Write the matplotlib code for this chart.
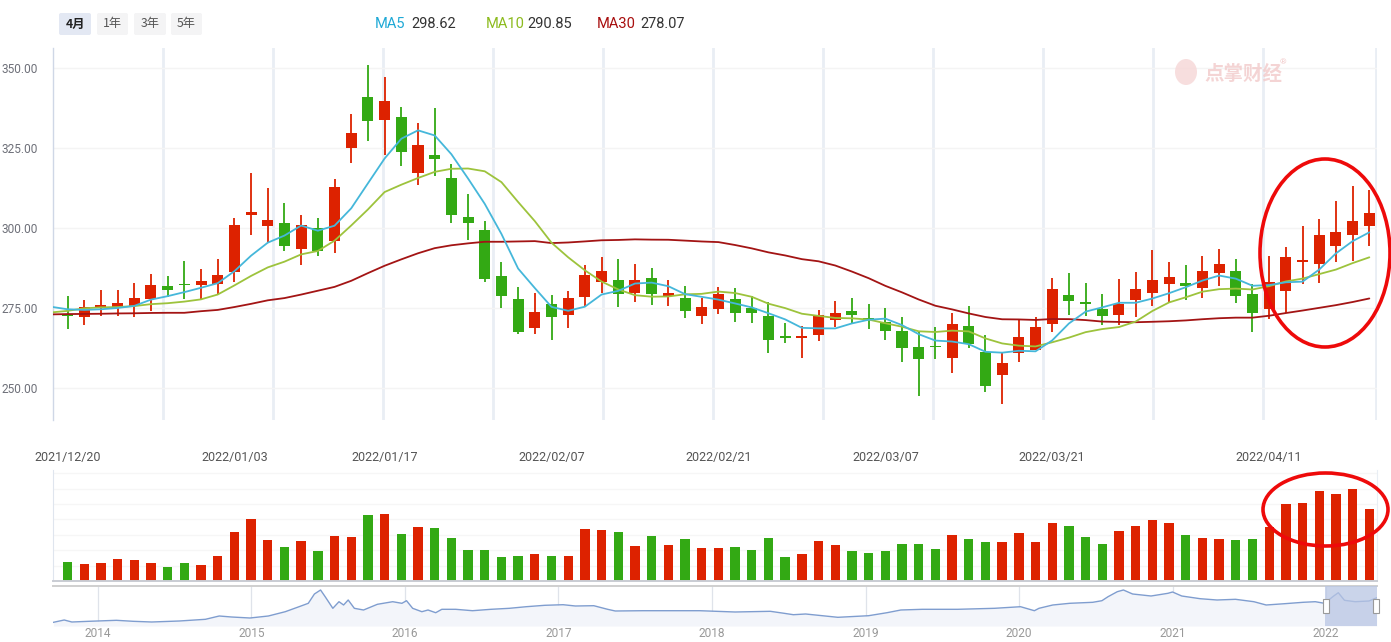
import matplotlib
matplotlib.use('Agg')
import matplotlib.pyplot as plt
import numpy as np
import pandas as pd
from matplotlib.patches import Ellipse, FancyBboxPatch, Rectangle

plt.rcParams['font.family'] = ['Roboto', 'Noto Sans CJK SC', 'DejaVu Sans']

# ---------------- data ----------------
dates = ['2021-12-20', '2021-12-21', '2021-12-22', '2021-12-23', '2021-12-24', '2021-12-27', '2021-12-28',
         '2021-12-29', '2021-12-30', '2021-12-31', '2022-01-04', '2022-01-05', '2022-01-06', '2022-01-07',
         '2022-01-10', '2022-01-11', '2022-01-12', '2022-01-13', '2022-01-14', '2022-01-17', '2022-01-18',
         '2022-01-19', '2022-01-20', '2022-01-21', '2022-01-24', '2022-01-25', '2022-01-26', '2022-01-27',
         '2022-01-28', '2022-02-07', '2022-02-08', '2022-02-09', '2022-02-10', '2022-02-11', '2022-02-14',
         '2022-02-15', '2022-02-16', '2022-02-17', '2022-02-18', '2022-02-21', '2022-02-22', '2022-02-23',
         '2022-02-24', '2022-02-25', '2022-02-28', '2022-03-01', '2022-03-02', '2022-03-03', '2022-03-04',
         '2022-03-07', '2022-03-08', '2022-03-09', '2022-03-10', '2022-03-11', '2022-03-14', '2022-03-15',
         '2022-03-16', '2022-03-17', '2022-03-18', '2022-03-21', '2022-03-22', '2022-03-23', '2022-03-24',
         '2022-03-25', '2022-03-28', '2022-03-29', '2022-03-30', '2022-03-31', '2022-04-01', '2022-04-06',
         '2022-04-07', '2022-04-08', '2022-04-11', '2022-04-12', '2022-04-13', '2022-04-14', '2022-04-15',
         '2022-04-18', '2022-04-19']

open_ = [273.0, 272.3, 275.3, 275.4, 275.7, 277.9, 281.9, 282.5, 282.3, 282.6,
         286.2, 304.2, 300.7, 301.6, 293.5, 300.0, 296.0, 325.1, 341.0, 333.8,
         334.7, 317.3, 322.8, 315.6, 303.4, 299.4, 285.0, 277.8, 268.8, 276.25,
         272.9, 278.5, 283.2, 283.75, 279.8, 284.4, 278.85, 278.1, 272.6, 274.8,
         277.8, 275.0, 272.5, 266.25, 265.7, 266.7, 271.3, 274.1, 271.7, 270.6,
         267.8, 262.8, 263.1, 259.5, 269.4, 261.25, 254.2, 261.0, 261.9, 270.1,
         279.1, 276.9, 274.7, 272.9, 277.6, 279.8, 282.6, 282.7, 281.3, 286.0,
         286.6, 279.4, 274.8, 280.4, 289.5, 288.85, 294.5, 297.9, 300.7]
high = [278.75, 277.5, 280.6, 280.6, 282.8, 285.6, 285.0, 289.7, 287.2, 290.3,
        303.1, 317.2, 312.5, 307.8, 304.1, 303.1, 315.3, 335.6, 350.9, 347.2,
        337.8, 332.8, 337.5, 320.0, 310.6, 302.2, 289.4, 281.6, 279.7, 279.1,
        280.3, 288.4, 290.9, 290.3, 288.75, 287.5, 283.75, 281.9, 278.1, 281.6,
        281.25, 278.6, 276.9, 270.3, 269.3, 274.4, 277.2, 278.1, 276.25, 274.9,
        272.2, 267.8, 269.1, 273.4, 275.6, 266.6, 260.9, 271.6, 272.2, 284.4,
        285.9, 282.8, 279.4, 284.1, 286.25, 293.1, 289.4, 288.4, 291.25, 293.4,
        290.3, 282.5, 291.25, 294.1, 300.7, 302.8, 308.4, 313.1, 311.9]
low = [268.5, 269.8, 272.6, 272.6, 272.3, 274.2, 278.3, 277.9, 277.5, 279.4,
       283.2, 297.9, 295.5, 292.9, 288.5, 291.35, 292.3, 320.4, 327.3, 322.8,
       319.5, 313.5, 316.3, 301.7, 296.3, 283.2, 275.1, 267.0, 267.0, 265.1,
       268.8, 275.4, 279.8, 275.4, 277.0, 276.0, 275.6, 272.0, 270.1, 273.2,
       270.7, 270.4, 261.0, 264.2, 259.5, 264.8, 269.1, 270.3, 268.4, 265.0,
       258.2, 247.6, 259.0, 254.8, 262.6, 248.75, 245.1, 258.2, 261.8, 267.5,
       272.9, 272.5, 269.8, 269.8, 272.3, 275.7, 276.9, 277.6, 278.2, 282.0,
       276.7, 267.6, 271.7, 273.5, 282.6, 282.9, 289.4, 289.8, 294.5]
close = [272.4, 275.3, 275.9, 276.6, 278.1, 282.2, 280.7, 282.2, 283.4, 285.3,
         300.9, 305.0, 302.5, 294.5, 300.9, 292.9, 312.8, 329.7, 333.5, 339.7,
         323.8, 325.9, 321.7, 304.2, 301.7, 284.2, 278.9, 267.6, 273.75, 272.3,
         278.1, 285.3, 286.6, 279.5, 283.75, 279.5, 279.7, 274.2, 275.3, 279.4,
         273.5, 273.5, 265.1, 265.7, 266.2, 272.7, 273.4, 272.9, 271.5, 267.9,
         262.6, 259.2, 262.9, 270.0, 263.8, 250.7, 257.8, 265.9, 269.1, 280.9,
         277.1, 276.3, 272.6, 276.25, 280.9, 283.75, 284.6, 282.0, 286.6, 288.75,
         278.9, 273.5, 283.1, 290.9, 289.8, 297.8, 298.75, 302.2, 304.7]
volume = [19, 17, 18, 22, 21, 18, 14, 18, 16, 25, 49, 62, 41, 34, 40, 30, 45, 44, 66, 67,
          47, 54, 53, 43, 31, 31, 24, 25, 27, 25, 25, 52, 51, 49, 35, 45, 36, 42, 33, 33,
          34, 31, 43, 24, 27, 40, 36, 30, 28, 30, 37, 37, 32, 46, 42, 39, 39, 48, 39, 58,
          55, 44, 37, 50, 55, 61, 58, 46, 43, 42, 41, 42, 54, 77, 78, 90, 87, 92, 72]

# moving-average values before enough closes are in the window (index -1 .. n-1)
ma5_head = [275.4, 274.6, 274.4, 274.6, 275.0]
ma10_head = [273.6, 274.1, 274.9, 275.2, 275.3, 275.6, 276.2, 276.5, 277.0, 277.7]
ma30_head = [273.0, 273.1, 273.15, 273.2, 273.3, 273.35, 273.45, 273.5, 273.5, 274.0, 274.4,
             275.3, 276.3, 277.4, 278.1, 279.2, 280.4, 281.6, 283.5, 285.9, 288.2, 290.2,
             292.1, 293.7, 294.6, 295.2, 295.7, 295.7, 295.8, 295.9]

tick_idx = [0, 10, 19, 29, 39, 49, 59, 72]
tick_lbl = ['2021/12/20', '2022/01/03', '2022/01/17', '2022/02/07', '2022/02/21',
            '2022/03/07', '2022/03/21', '2022/04/11']
price_ticks = [250, 275, 300, 325, 350]

legend_names = ['MA5', 'MA10', 'MA30']
legend_vals = ['298.62', '290.85', '278.07']
buttons = ['4月', '1年', '3年', '5年']

# navigator (long history): decimal year, price
nav_t = [2013.71, 2013.78, 2013.83, 2013.94, 2014.12, 2014.23, 2014.35, 2014.53, 2014.70, 2014.79,
         2014.87, 2014.99, 2015.11, 2015.22, 2015.31, 2015.37, 2015.41, 2015.45, 2015.48, 2015.53,
         2015.57, 2015.60, 2015.63, 2015.67, 2015.73, 2015.82, 2015.92, 2015.98, 2016.01, 2016.05,
         2016.11, 2016.15, 2016.20, 2016.24, 2016.33, 2016.44, 2016.56, 2016.68, 2016.79, 2016.91,
         2017.03, 2017.11, 2017.23, 2017.32, 2017.37, 2017.55, 2017.72, 2017.92, 2018.15, 2018.38,
         2018.47, 2018.53, 2018.61, 2018.82, 2019.02, 2019.14, 2019.23, 2019.37, 2019.60, 2019.84,
         2020.01, 2020.10, 2020.13, 2020.22, 2020.33, 2020.48, 2020.54, 2020.58, 2020.64, 2020.68,
         2020.74, 2020.86, 2020.97, 2021.00, 2021.06, 2021.18, 2021.29, 2021.41, 2021.53, 2021.61,
         2021.73, 2021.85, 2021.93, 2021.99, 2022.05, 2022.08, 2022.12, 2022.19, 2022.28, 2022.33]
nav_v = [162.0, 175.4, 163.8, 167.8, 173.6, 167.8, 163.8, 169.6, 179.4, 198.6,
         192.8, 187.0, 198.6, 223.5, 252.5, 272.2, 326.2, 349.4, 310.5, 243.2,
         281.5, 262.4, 291.4, 243.2, 233.4, 266.4, 281.5, 272.2, 287.3, 243.2,
         223.5, 233.4, 217.7, 237.4, 237.4, 229.3, 237.4, 243.2, 252.5, 260.6,
         264.1, 256.6, 258.3, 237.4, 227.6, 229.3, 229.3, 229.3, 221.8, 225.8,
         214.2, 206.1, 210.2, 191.0, 200.3, 217.7, 233.4, 237.4, 237.4, 243.2,
         252.5, 229.3, 243.2, 262.4, 272.2, 278.0, 287.3, 310.5, 339.5, 349.4,
         326.2, 314.6, 330.2, 337.8, 314.6, 298.9, 291.4, 295.4, 281.5, 262.4,
         269.9, 278.0, 281.5, 272.2, 314.6, 333.7, 289.6, 281.5, 285.6, 304.7]
nav_years = [2014, 2015, 2016, 2017, 2018, 2019, 2020, 2021, 2022]
nav_window = (2021.99, 2022.33)

# ---------------- styling ----------------
RED = '#dd2200'
GREEN = '#33a914'
C_MA5 = '#45b7da'
C_MA10 = '#9dc33c'
C_MA30 = '#a31414'
W, H = 1391, 642

fig = plt.figure(figsize=(W / 100, H / 100), dpi=100)


def axes_px(x0, y0, x1, y1):
    return fig.add_axes([x0 / W, 1 - y1 / H, (x1 - x0) / W, (y1 - y0) / H])


n = len(close)
idx = np.arange(n)
o = np.array(open_); c = np.array(close); hi = np.array(high); lo = np.array(low)
up = c >= o
cols = np.where(up, RED, GREEN)

XL = (-0.869, 78.46)

# ---------------- main candle axes ----------------
ax = axes_px(53, 48, 1377, 420)
ax.set_xlim(*XL)
ax.set_ylim(240, 356.25)
for sp in ['top', 'right', 'bottom']:
    ax.spines[sp].set_visible(False)
ax.spines['left'].set_color('#cfd7e6')
ax.spines['left'].set_linewidth(1.0)

# vertical split lines every 110 px
for k in range(1, 13):
    px = 53 + 110 * k if k < 12 else 1376
    xd = XL[0] + (px - 53) / 1324 * (XL[1] - XL[0])
    ax.axvline(xd, color='#e9eef4', lw=2.0, zorder=0)
for p in price_ticks:
    ax.axhline(p, color='#f4f4f4', lw=1.0, zorder=0)

ax.vlines(idx, lo, hi, colors=cols, lw=1.3, zorder=2)
body_h = np.maximum(np.abs(c - o), 0.35)
ax.bar(idx, body_h, bottom=np.minimum(o, c), width=0.66, color=cols, lw=0, zorder=3)

s = pd.Series(c)
xm = np.arange(-1, n)
ma5 = np.concatenate([ma5_head, s.rolling(5).mean().values[4:]])
ma10 = np.concatenate([ma10_head, s.rolling(10).mean().values[9:]])
ma30 = np.concatenate([ma30_head, s.rolling(30).mean().values[29:]])
ax.plot(xm, ma30, color=C_MA30, lw=1.3, zorder=4, solid_capstyle='round')
ax.plot(xm, ma10, color=C_MA10, lw=1.3, zorder=4, solid_capstyle='round')
ax.plot(xm, ma5, color=C_MA5, lw=1.3, zorder=4, solid_capstyle='round')

ax.set_yticks(price_ticks)
ax.set_yticklabels(['%.2f' % p for p in price_ticks])
ax.tick_params(axis='y', length=0, pad=10.8, labelsize=8.6, labelcolor='#6e7079')
ax.set_xticks(tick_idx)
ax.set_xticklabels(tick_lbl)
ax.tick_params(axis='x', length=0, pad=22.5, labelsize=9.0, labelcolor='#555555')

# ---------------- volume axes ----------------
axv = axes_px(53, 470, 1377, 581)
axv.set_xlim(*XL)
axv.set_ylim(0, 111)
for sp in ['top']:
    axv.spines[sp].set_visible(False)
axv.spines['left'].set_color('#dfe5ee')
axv.spines['right'].set_color('#e9eef4')
axv.spines['bottom'].set_color('#c9ccd3')
axv.spines['bottom'].set_linewidth(1.4)
for k in range(1, 8):
    axv.axhline(15.4 * k, color='#f6f6f6', lw=1.0, zorder=0)
axv.bar(idx, volume, width=0.56, color=cols, lw=0, zorder=2)
axv.set_xticks([]); axv.set_yticks([])

# ---------------- navigator ----------------
axn = axes_px(53, 586, 1377, 626)
axn.set_xlim(2013.707, 2022.332)
axn.set_ylim(140.6, 372.6)
for sp in ['left', 'right', 'bottom']:
    axn.spines[sp].set_visible(False)
axn.spines['top'].set_color('#cfcfcf')
axn.spines['top'].set_linewidth(1.4)
for yv in nav_years:
    axn.axvline(yv, color='#dfe3ea', lw=0.9, zorder=0)
axn.fill_between(nav_t, nav_v, 140.6, color='#f3f5fa', zorder=1, lw=0)
axn.plot(nav_t, nav_v, color='#7f9dcf', lw=1.0, zorder=2)
axn.axvspan(nav_window[0], nav_window[1], color='#b9c6e4', alpha=0.75, zorder=3, lw=0)
axn.set_xticks(nav_years)
axn.set_xticklabels([str(y) for y in nav_years])
axn.tick_params(axis='x', length=0, pad=1.0, labelsize=8.6, labelcolor='#999999')
axn.set_yticks([])

# ---------------- overlay (pixel coords) ----------------
ov = fig.add_axes([0, 0, 1, 1], zorder=10)
ov.set_xlim(0, W); ov.set_ylim(H, 0)
ov.axis('off')
ov.patch.set_alpha(0)

btn_x = [(59, 91), (97, 128), (134, 166), (171, 202)]
for i, (lbl, (x0, x1)) in enumerate(zip(buttons, btn_x)):
    fc = '#e3e8f3' if i == 0 else '#f4f4f5'
    ov.add_patch(FancyBboxPatch((x0, 13), x1 - x0, 22, boxstyle='round,pad=0,rounding_size=2',
                                fc=fc, ec='none'))
    ov.text((x0 + x1) / 2, 24, lbl, ha='center', va='center', fontsize=8.8,
            color='#222222' if i == 0 else '#555555', fontweight='bold' if i == 0 else 'normal',
            family=['Noto Sans CJK SC', 'DejaVu Sans'])

leg_x = [(375, 411), (486, 527), (597, 640)]
leg_c = ['#1fa9d6', '#8cbb1e', '#a80f0f']
for name, val, (x0, x1), col in zip(legend_names, legend_vals, leg_x, leg_c):
    ov.text(x0, 23.5, name, ha='left', va='center', fontsize=10.5, color=col)
    ov.text(x1, 23.5, val, ha='left', va='center', fontsize=10.5, color='#333333')

# watermark
ov.text(1243, 74, '点掌财经', ha='center', va='center', fontsize=14, color='#f2caca',
        fontweight='bold', family=['Noto Sans CJK SC', 'DejaVu Sans'], alpha=0.8)
ov.text(1283, 62, '®', ha='center', va='center', fontsize=6, color='#f2caca')
ov.add_patch(Ellipse((1186, 72), 22, 26, fc='#f6d6d6', ec='none', alpha=0.8))

# navigator handles
for hx in (1325.5, 1376):
    ov.add_patch(Rectangle((hx - 3, 599), 6, 14, fc='white', ec='#9a9a9a', lw=0.8))

# red annotation ellipses
ov.add_patch(Ellipse((1325, 253), 130, 188, fill=False, ec='#ee0a0a', lw=2.6))
ov.add_patch(Ellipse((1325.5, 509.5), 125, 73, fill=False, ec='#ee0a0a', lw=2.6))

fig.savefig('out.png', dpi=100)
